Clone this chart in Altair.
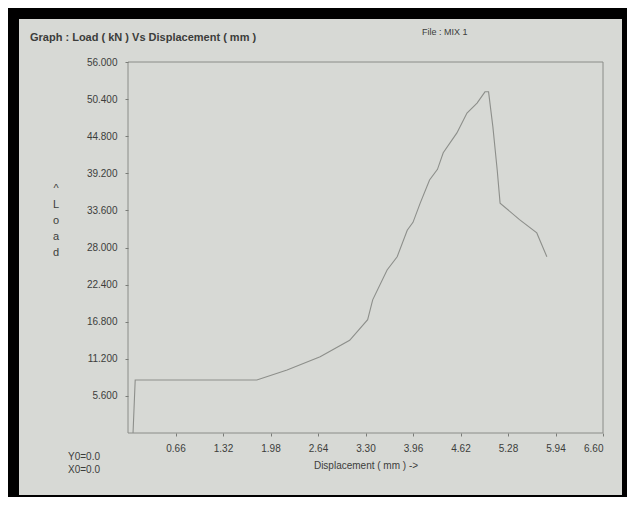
import altair as alt
import pandas as pd

# Load (kN) vs displacement (mm)
disp = [0.07, 0.10, 1.79, 2.21, 2.67, 3.08, 3.33, 3.40, 3.60, 3.74, 3.88, 3.96, 4.06,
        4.19, 4.30, 4.38, 4.57, 4.71, 4.85, 4.96, 5.01, 5.07, 5.13, 5.17, 5.44, 5.68, 5.82]
load = [0.0, 8.0, 8.0, 9.5, 11.5, 14.0, 17.1, 20.1, 24.6, 26.6, 30.6, 31.8, 34.7,
        38.2, 39.8, 42.3, 45.3, 48.3, 49.8, 51.5, 51.5, 46.2, 39.7, 34.7, 32.2, 30.2, 26.6]

x_ticks = [0.66, 1.32, 1.98, 2.64, 3.30, 3.96, 4.62, 5.28, 5.94, 6.60]
y_ticks = [5.6, 11.2, 16.8, 22.4, 28.0, 33.6, 39.2, 44.8, 50.4, 56.0]

title_text = "Graph : Load ( kN ) Vs Displacement ( mm )"
file_text = "File : MIX 1"
x_title = "Displacement ( mm )  ->"
y_letters = ["^", "L", "o", "a", "d"]
origin_text = ["Y0=0.0", "X0=0.0"]

df = pd.DataFrame({"disp": disp, "load": load, "i": list(range(len(disp)))})
one = pd.DataFrame({"a": [0]})

FONT = "Liberation Sans, Arial, sans-serif"
TXT = "#3c3d3b"
PAPER = "#d7d9d5"
W, H = 475, 371

panel = alt.Chart(one).mark_rect(color=PAPER).encode(
    x=alt.value(-109), x2=alt.value(494), y=alt.value(-43), y2=alt.value(433)
)
box = alt.Chart(one).mark_rect(fill="transparent", stroke="#8a8c88", strokeWidth=1).encode(
    x=alt.value(0), x2=alt.value(W), y=alt.value(0), y2=alt.value(H)
)

axis_common = dict(domain=False, grid=False, ticks=True, tickSize=3, tickColor="#7a7c78",
                   labelFont=FONT, labelFontSize=10, labelColor=TXT, zindex=1)

line = alt.Chart(df).mark_line(color="#8d8f8b", strokeWidth=1.1).encode(
    x=alt.X("disp:Q", scale=alt.Scale(domain=[0, 6.6], nice=False),
            axis=alt.Axis(values=x_ticks, format=".2f", title=x_title, titleFont=FONT,
                          titleFontSize=10, titleFontWeight="normal", titleColor=TXT,
                          titlePadding=7, labelPadding=7, **axis_common)),
    y=alt.Y("load:Q", scale=alt.Scale(domain=[0, 56], nice=False),
            axis=alt.Axis(values=y_ticks, format=".3f", title=None, labelPadding=8,
                          **axis_common)),
    order="i:Q",
)

def txt(x, y, t, size=10, weight="normal", align="left", baseline="middle", lh=16):
    return alt.Chart(one).mark_text(font=FONT, fontSize=size, fontWeight=weight, color=TXT,
                                    align=align, baseline=baseline, lineHeight=lh).encode(
        x=alt.value(x), y=alt.value(y), text=alt.value(t))

title = txt(-98, -24, title_text, size=11, weight="bold")
file_lbl = txt(294, -30, file_text, size=9)
ylab = txt(-72, 121, y_letters, size=11, align="center", baseline="top", lh=16)
origin = txt(-28, 390, origin_text, size=10, align="right", baseline="top", lh=13)

chart = alt.layer(panel, box, line, title, file_lbl, ylab, origin).properties(
    width=W, height=H, background="black",
    padding={"left": 120, "right": 24, "top": 54, "bottom": 64},
    autosize=alt.AutoSizeParams(type="none"),
).configure_view(stroke=None)

chart.save("out.html", embed_options={"renderer": "svg", "actions": False})
